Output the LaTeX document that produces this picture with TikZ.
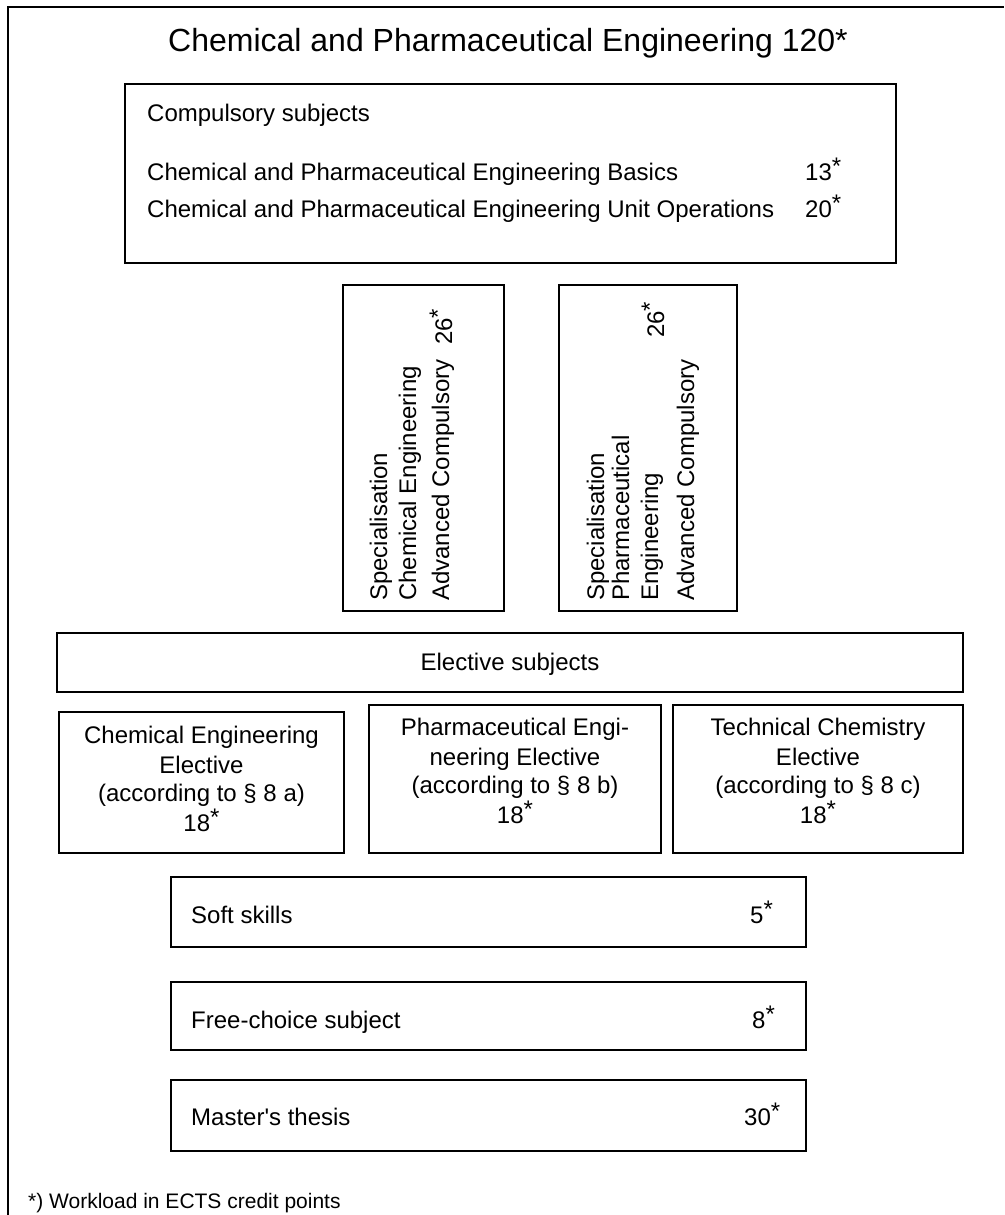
\documentclass[tikz,border=0pt]{standalone}
\usepackage{fontspec}
\setmainfont{Liberation Sans}
\newcommand{\stmark}{\raisebox{0.25em}{*}}
\newcommand{\straightq}{{\XeTeXglyph\XeTeXcharglyph"27 }}
\begin{document}
\begin{tikzpicture}[x=1pt,y=-1pt,
  box/.style={draw=black,line width=1.4pt},
  txt/.style={inner sep=0pt,anchor=base west,font=\fontsize{24}{29}\selectfont},
  ctxt/.style={inner sep=0pt,anchor=base,font=\fontsize{24}{29}\selectfont},
  rtxt/.style={inner sep=0pt,anchor=base west,rotate=90,font=\fontsize{24}{29}\selectfont}]
\useasboundingbox (0,0) rectangle (1004,1215);
% outer frame (partially visible)
\draw[line width=2.2pt] (8,1215) -- (8,7) -- (1004,7);
% title
\node[inner sep=0pt,anchor=base,font=\fontsize{32}{38}\selectfont] (title) at (508,52) {Chemical and Pharmaceutical Engineering 120*};
% compulsory box
\draw[box] (125,84) rectangle (896,263);
\node[txt] (comp) at (147,121) {Compulsory subjects};
\node[txt] (basics) at (147,180) {Chemical and Pharmaceutical Engineering Basics};
\node[txt] (basicsn) at (805,180) {13\stmark};
\node[txt] (unit) at (147,217) {Chemical and Pharmaceutical Engineering Unit Operations};
\node[txt] (unitn) at (805,217) {20\stmark};
% specialisation boxes
\draw[box] (343,285) rectangle (504,611);
\node[rtxt] (sa1) at (387,601) {Specialisation};
\node[rtxt] (sa2) at (416,601) {Chemical Engineering};
\node[rtxt] (sa3) at (449,601) {Advanced Compulsory};
\node[rtxt] (san) at (452,345) {26\stmark};
\draw[box] (559,285) rectangle (737,611);
\node[rtxt] (sb1) at (604,601) {Specialisation};
\node[rtxt] (sb2) at (629,601) {Pharmaceutical};
\node[rtxt] (sb3) at (658,601) {Engineering};
\node[rtxt] (sb4) at (694,601) {Advanced Compulsory};
\node[rtxt] (sbn) at (664,338) {26\stmark};
% elective header
\draw[box] (57,633) rectangle (963,692);
\node[ctxt] (elec) at (510,670) {Elective subjects};
% elective boxes
\draw[box] (59,712) rectangle (344,853);
\node[ctxt] (ea1) at (201.5,743) {Chemical Engineering};
\node[ctxt] (ea2) at (201.5,773) {Elective};
\node[ctxt] (ea3) at (201.5,801) {(according to \S\ 8 a)};
\node[ctxt] (ea4) at (201.5,831) {18\stmark};
\draw[box] (369,705) rectangle (661,853);
\node[ctxt] (eb1) at (515,735) {Pharmaceutical Engi-};
\node[ctxt] (eb2) at (515,765) {neering Elective};
\node[ctxt] (eb3) at (515,793) {(according to \S\ 8 b)};
\node[ctxt] (eb4) at (515,823) {18\stmark};
\draw[box] (673,705) rectangle (963,853);
\node[ctxt] (ec1) at (818,735) {Technical Chemistry};
\node[ctxt] (ec2) at (818,765) {Elective};
\node[ctxt] (ec3) at (818,793) {(according to \S\ 8 c)};
\node[ctxt] (ec4) at (818,823) {18\stmark};
% bottom boxes
\draw[box] (171,877) rectangle (806,947);
\node[txt] (soft) at (191,923) {Soft skills};
\node[txt] (softn) at (750,923) {5\stmark};
\draw[box] (171,982) rectangle (806,1050);
\node[txt] (free) at (191,1028) {Free-choice subject};
\node[txt] (freen) at (752,1028) {8\stmark};
\draw[box] (171,1080) rectangle (806,1151);
\node[txt] (mast) at (191,1125) {Master\straightq s thesis};
\node[txt] (mastn) at (744,1125) {30\stmark};
% footnote
\node[inner sep=0pt,anchor=base west,font=\fontsize{21}{25}\selectfont] (foot) at (28,1208) {*) Workload in ECTS credit points};
\end{tikzpicture}
\end{document}
